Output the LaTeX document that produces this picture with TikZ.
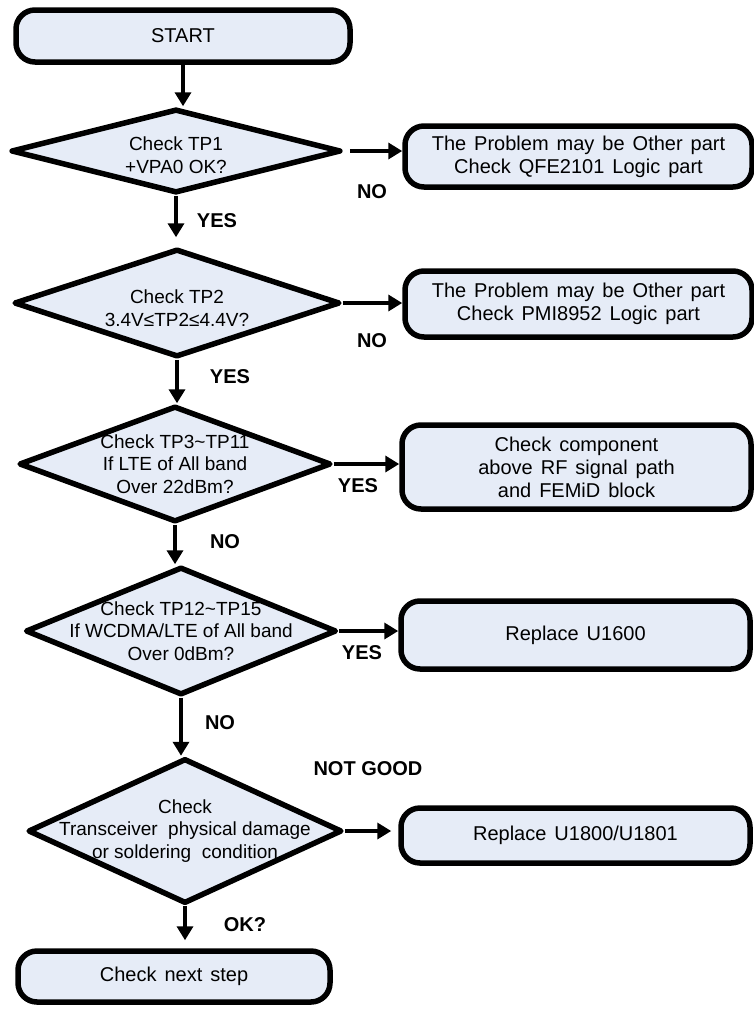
\documentclass[tikz,border=0pt]{standalone}
\usepackage{fontspec}
\setmainfont{Liberation Sans}
\usetikzlibrary{shapes.geometric,arrows.meta}
\definecolor{boxfill}{RGB}{230,236,247}
\newcommand\boxfont{\fontsize{20}{23}\selectfont\spaceskip=8pt plus 2pt minus 1pt\relax}
\newcommand\diafont{\fontsize{19}{22.5}\selectfont}

\begin{document}
\begin{tikzpicture}[x=1pt,y=-1pt,
  box/.style={draw, line width=5.5pt, rounded corners=19pt, fill=boxfill,
    align=center, font=\boxfont, inner sep=0pt},
  dia/.style={draw, diamond, line width=5.5pt, line join=round, fill=boxfill, inner sep=0pt},
  dtext/.style={align=center, font=\diafont, inner sep=0pt},
  lab/.style={font=\bfseries\fontsize{20}{22}\selectfont, inner sep=0pt},
  arr/.style={line width=4.5pt, -{Triangle[length=14pt,width=16pt]}},
]
\useasboundingbox (0,0) rectangle (754,1013);

% main column: start, five checks, next step
\node[box, minimum width=334pt, minimum height=52pt] (start) at (183,36) {START};
\node[dia, minimum width=330pt, minimum height=84pt,
  label={[dtext, yshift=-4pt]center:{Check TP1\\+VPA0 OK?}}] (d1) at (176,151) {};
\node[dia, minimum width=326pt, minimum height=108pt,
  label={[dtext, yshift=-5pt]center:{Check TP2\\3.4V≤TP2≤4.4V?}}] (d2) at (177,303) {};
\node[dia, minimum width=312pt, minimum height=116pt,
  label={[dtext]center:{Check TP3\textasciitilde TP11\\If LTE of All band\\Over 22dBm?}}] (d3) at (175,464) {};
\node[dia, minimum width=311pt, minimum height=128pt,
  label={[dtext]center:{Check TP12\textasciitilde TP15\\If WCDMA/LTE of All band\\Over 0dBm?}}] (d4) at (181,631) {};
\node[dia, minimum width=314pt, minimum height=145pt,
  label={[dtext]center:{Check\\Transceiver\ \ physical damage\\or soldering\ \ condition}}] (d5) at (185,831) {};
\node[box, minimum width=312pt, minimum height=51pt] (next) at (174,976.5) {Check next step};

% right column: outcomes
\node[box, minimum width=347pt, minimum height=61pt] (b1) at (578.5,156.5)
  {The Problem may be Other part\\Check QFE2101 Logic part};
\node[box, minimum width=347pt, minimum height=66pt] (b2) at (578.5,304)
  {The Problem may be Other part\\Check PMI8952\ Logic part};
\node[box, minimum width=349pt, minimum height=84pt] (b3) at (576.5,467)
  {Check component\\above RF signal path\\and FEMiD block};
\node[box, minimum width=349pt, minimum height=68pt] (b4) at (575.5,635) {Replace U1600};
\node[box, minimum width=349pt, minimum height=55pt] (b5) at (575.5,835.5) {Replace U1800/U1801};

% connectors
\draw[arr] (start.south) -- (start.south |- d1.north);
\draw[arr, shorten >=9pt] (d1.south) -- (d1.south |- d2.north);
\draw[arr] (d2.south) -- (d2.south |- d3.north);
\draw[arr] (d3.south) -- (d3.south |- d4.north);
\draw[arr] (d4.south) -- (d4.south |- d5.north);
\draw[arr, shorten >=8pt] (d5.south) -- (d5.south |- next.north);
\draw[arr, shorten <=6pt] (d1.east) -- (d1.east -| b1.west);
\draw[arr] (d2.east) -- (d2.east -| b2.west);
\draw[arr] (d3.east) -- (d3.east -| b3.west);
\draw[arr] (d4.east) -- (d4.east -| b4.west);
\draw[arr, shorten >=7pt] (d5.east) -- (d5.east -| b5.west);

% branch labels
\node[lab] (no1) at (372,192) {NO};
\node[lab] (yes1) at (217,221) {YES};
\node[lab] (no2) at (372,341) {NO};
\node[lab] (yes2) at (230,377) {YES};
\node[lab] (yes3) at (358,486) {YES};
\node[lab] (no3) at (225,542) {NO};
\node[lab] (yes4) at (362,653) {YES};
\node[lab] (no4) at (220,723) {NO};
\node[lab] (notgood) at (368,769) {NOT GOOD};
\node[lab] (ok) at (245,925) {OK?};
\end{tikzpicture}
\end{document}
